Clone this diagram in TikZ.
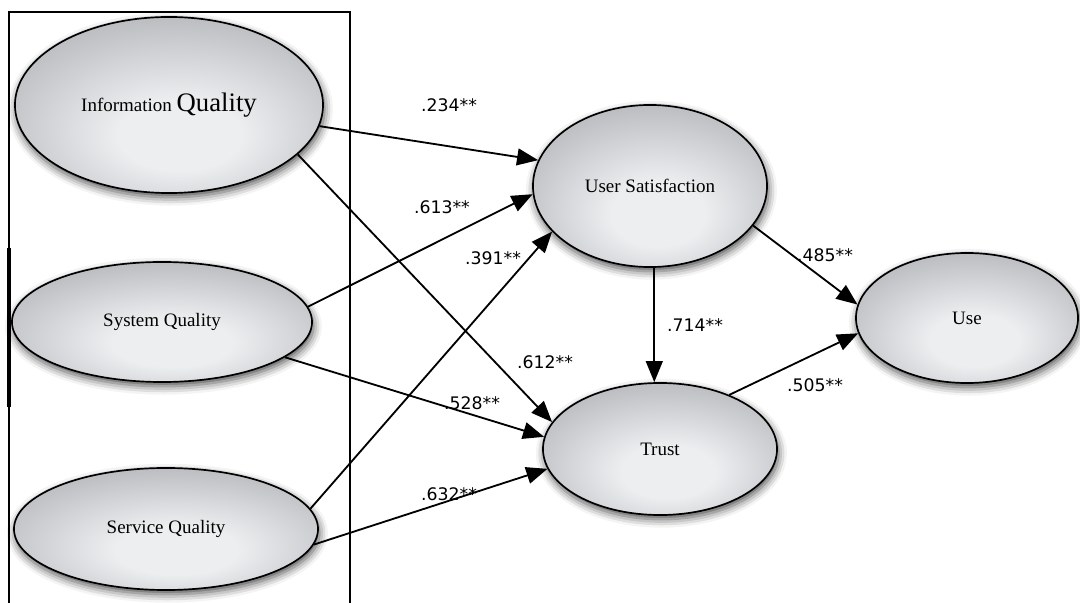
\documentclass[tikz,border=0pt]{standalone}
\usepackage{fontspec}
\setmainfont{Liberation Serif}
\newfontfamily\coeffont{DejaVu Sans}
\usetikzlibrary{shapes.geometric,arrows.meta,shadows.blur}
\definecolor{ovallight}{HTML}{EDEEF0}
\definecolor{ovaldark}{HTML}{8E9197}
\pgfdeclareradialshading{ovalshading}{\pgfpoint{2bp}{-10bp}}{color(0bp)=(ovallight); color(10bp)=(ovallight); color(50bp)=(ovaldark); color(75bp)=(ovaldark)}
\tikzset{construct/.style={ellipse, draw=black, line width=1.2pt, shading=ovalshading, inner sep=0pt,
    font=\fontsize{13.5}{15}\selectfont,
    blur shadow={shadow xshift=1pt, shadow yshift=-3pt, shadow blur radius=6pt, shadow opacity=70}},
  link/.style={black, line width=1.3pt, -{Triangle[length=15pt,width=12pt]}},
  coef/.style={font=\coeffont\fontsize{12.3}{14}\selectfont, inner sep=1pt},
  frame/.style={black, line width=0.8pt}}

\begin{document}
\begin{tikzpicture}[x=0.025cm,y=-0.025cm]
  \useasboundingbox (0,0) rectangle (1080,603);
  \draw[frame] (9,603) -- (9,12) -- (350,12) -- (350,603);
  \draw[black, line width=2.4pt] (9,248) -- (9,407);
  % constructs
  \node[construct, minimum width=7.7cm, minimum height=4.4cm] (iq) at (169,105)
    {Information {\fontsize{19}{20}\selectfont Quality}};
  \node[construct, minimum width=7.5cm, minimum height=3cm] (sq) at (162,322) {System Quality};
  \node[construct, minimum width=7.6cm, minimum height=3.05cm] (vq) at (166,529) {Service Quality};
  \node[construct, minimum width=5.85cm, minimum height=4.05cm] (us) at (650,186) {User Satisfaction};
  \node[construct, minimum width=5.85cm, minimum height=3.3cm] (tr) at (660,449) {Trust};
  \node[construct, minimum width=5.55cm, minimum height=3.25cm] (use) at (967,318) {Use};
  % paths
  \draw[link] (iq.-8) -- (us.167);
  \draw[link] (iq.-21) -- (tr.166);
  \draw[link] (sq.6) -- (us.184);
  \draw[link] (sq.-16) -- (tr.174);
  \draw[link] (vq.8) -- (us.205);
  \draw[link] (vq.-6) -- (tr.190);
  \draw[link] (us.-87) -- (us.-87 |- tr.north);
  \draw[link] (us.-21) -- (use.173);
  \draw[link] (tr.38) -- (use.188);
  % coefficients
  \node[coef] (c234) at (449,105) {.234**};
  \node[coef] (c613) at (442,207) {.613**};
  \node[coef] (c391) at (493,258) {.391**};
  \node[coef] (c612) at (545,362) {.612**};
  \node[coef] (c528) at (472,403) {.528**};
  \node[coef] (c632) at (449,494) {.632**};
  \node[coef] (c714) at (695,325) {.714**};
  \node[coef] (c485) at (825,255) {.485**};
  \node[coef] (c505) at (815,385) {.505**};
\end{tikzpicture}
\end{document}
